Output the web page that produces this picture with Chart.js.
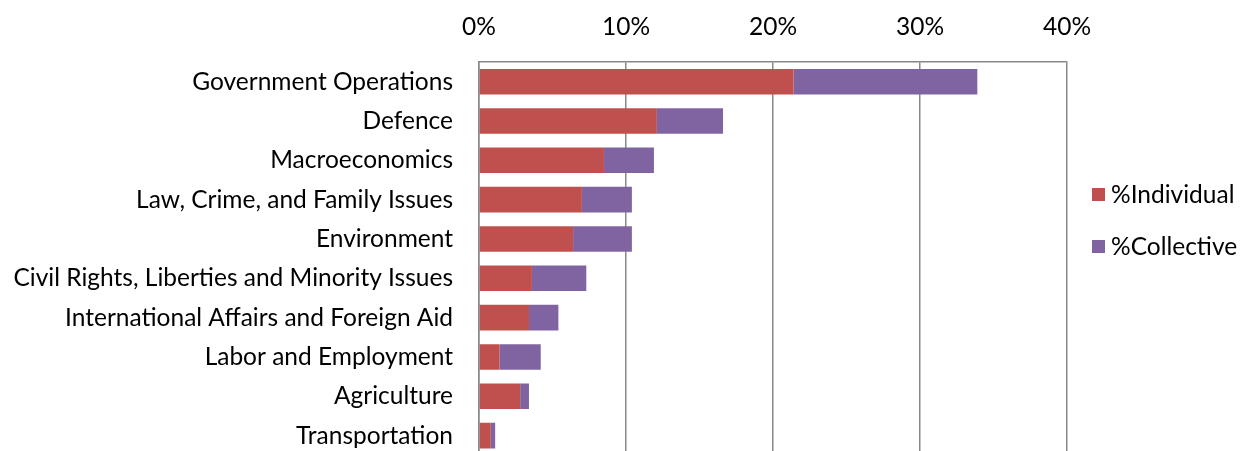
<!DOCTYPE html>
<html>
<head>
    <title>Issue categories: individual vs collective</title>
    <script src="https://cdn.jsdelivr.net/npm/chart.js"></script>
    <style>
        html, body { margin: 0; padding: 0; overflow: hidden; background: #fff; }
    </style>
</head>
<body>
    <!-- canvas taller than the window: the reference plot runs past the bottom edge -->
    <canvas id="myChart" width="1242" height="496"></canvas>

    <script>
        // values, in percent
        var categories = [
            'Government Operations',
            'Defence',
            'Macroeconomics',
            'Law, Crime, and Family Issues',
            'Environment',
            'Civil Rights, Liberties and Minority Issues',
            'International Affairs and Foreign Aid',
            'Labor and Employment',
            'Agriculture',
            'Transportation'
        ];
        var individual = [21.4, 12.1, 8.5, 7.0, 6.4, 3.6, 3.4, 1.4, 2.8, 0.8];
        var collective = [12.5, 4.5, 3.4, 3.4, 4.0, 3.7, 2.0, 2.8, 0.6, 0.3];
        var xTicks = [0, 10, 20, 30, 40];

        var FONT = "Lato, 'Open Sans', sans-serif";

        // simple legend drawn to the right of the plot
        var sideLegend = {
            id: 'sideLegend',
            afterDraw: function(chart) {
                var ctx = chart.ctx;
                var rows = [194, 246];
                ctx.save();
                ctx.font = '24.5px ' + FONT;
                ctx.textBaseline = 'middle';
                ctx.textAlign = 'left';
                chart.data.datasets.forEach(function(ds, i) {
                    ctx.fillStyle = ds.backgroundColor;
                    ctx.fillRect(1092, rows[i] - 6, 13, 13);
                    ctx.fillStyle = '#000';
                    ctx.fillText(ds.label, 1111, rows[i] + 1);
                });
                ctx.restore();
            }
        };

        var ctx = document.getElementById("myChart").getContext("2d");
        var chart = new Chart(ctx, {
            type: 'bar',
            data: {
                labels: categories,
                datasets: [{
                    label: '%Individual',
                    backgroundColor: '#C0504D',
                    data: individual
                }, {
                    label: '%Collective',
                    backgroundColor: '#8064A2',
                    data: collective
                }]
            },
            plugins: [sideLegend],
            options: {
                indexAxis: 'y',
                responsive: false,
                animation: false,
                categoryPercentage: 1,
                barPercentage: 0.65,
                layout: { padding: { left: 0, right: 175, top: 0, bottom: 5 } },
                plugins: {
                    legend: { display: false },
                    tooltip: { enabled: false }
                },
                scales: {
                    x: {
                        position: 'top',
                        stacked: true,
                        min: 0,
                        max: 40,
                        afterBuildTicks: function(scale) {
                            scale.ticks = xTicks.map(function(v) { return { value: v }; });
                        },
                        afterFit: function(scale) { scale.height = 62; },
                        grid: { color: '#888888', lineWidth: 1.5, drawTicks: false },
                        border: { color: '#888888', width: 1.5 },
                        ticks: {
                            color: '#000',
                            padding: 20,
                            font: { family: FONT, size: 24.5 },
                            maxRotation: 0,
                            callback: function(v) { return v + '%'; }
                        }
                    },
                    y: {
                        stacked: true,
                        afterFit: function(scale) { scale.width = 479; },
                        grid: { display: false, drawTicks: false },
                        border: { color: '#888888', width: 1.5 },
                        ticks: {
                            color: '#000',
                            padding: 26,
                            font: { family: FONT, size: 24.5 },
                            autoSkip: false
                        }
                    }
                }
            }
        });
    </script>
</body>
</html>
